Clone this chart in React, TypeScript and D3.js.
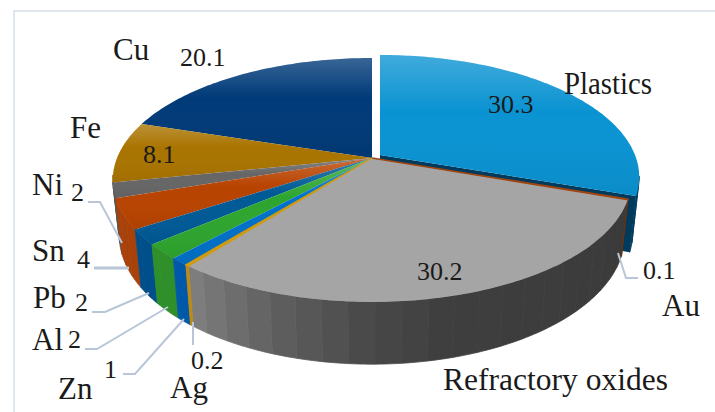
import * as d3 from 'd3';

const categories = ['Plastics', 'Au', 'Refractory oxides', 'Ag', 'Zn', 'Al', 'Pb', 'Sn', 'Ni', 'Fe', 'Cu'];
const values = [30.3, 0.1, 30.2, 0.2, 1, 2, 2, 4, 2, 8.1, 20.1];
const valueLabels = ['30.3', '0.1', '30.2', '0.2', '1', '2', '2', '4', '2', '8.1', '20.1'];

const topColors = ['#0a93d2', '#a04510', '#a5a5a5', '#d09a10', '#0070c8', '#2ea52e', '#005a96', '#b84300', '#666666', '#a97400', '#003a78'];
const wallColors = ['#003a5c', '#6e3208', '#555555', '#c08a10', '#0058a8', '#2f8f2a', '#004f8a', '#a8420a', '#555555', '#7d5600', '#002a58'];

// label anchors, [x, baseline]
const nameAt: [number, number][] = [[564, 94], [662, 316], [443, 390], [170, 398], [58, 399], [32, 350], [33, 308], [32, 261], [32, 195], [70, 138], [113, 60]];
const valueAt: [number, number][] = [[488, 113], [643, 279], [417, 280], [191, 369], [104, 378], [68, 348], [75, 311], [77, 268], [71, 201], [143, 163], [180, 66]];
// the two long names are squeezed or stretched to the width in the picture
const nameWidth: Record<string, number> = { Plastics: 88, 'Refractory oxides': 225 };
// leader polylines per category, only the small slices have one
const leaders: Record<string, [number, number][]> = {
  Au: [[618, 253], [626, 278], [638, 278]],
  Ag: [[193, 322], [193, 345]],
  Zn: [[184, 319], [135, 374], [123, 374]],
  Al: [[168, 307], [97, 349], [85, 349]],
  Pb: [[149, 293], [105, 312], [92, 312]],
  Sn: [[129, 268], [94, 268]],
  Ni: [[122, 243], [100, 202], [88, 202]],
};

const W = 715;
const H = 412;
const cx = 372;
const cy = 158;
const tilt = 0.18;
const depth = 54;
const shrink = 0.975;

const xScale = d3.scaleLinear().domain([-1, 1]).range([cx - 255, cx + 255]);
const yScale = d3.scaleLinear().domain([-1, 1]).range([cy + 118, cy - 118]);

const greyShade = d3.scaleLinear<string>()
  .domain([100, 165, 180, 196, 213, 218])
  .range(['#3a3a3a', '#3e3e3e', '#484848', '#5c5c5c', '#777777', '#808080']);

type Pt = [number, number];

// circle point to screen, lower=true gives the rim of the bottom face
function project(a: number, r: number, lower: boolean, off: Pt = [0, 0]): Pt {
  const u = Math.sin(a) * r;
  const w = Math.cos(a) * r;
  const s = 1 / (1 + tilt * w);
  const k = lower ? shrink : 1;
  const x = xScale(u * s * k);
  const y = yScale(w * s * k) + (lower ? depth * s : 0);
  return [x + off[0], y + off[1]];
}

function angleSteps(a0: number, a1: number, step: number): number[] {
  const out = d3.range(a0, a1, step);
  out.push(a1);
  return out;
}

const line = d3.line();
const pieGen = d3.pie<number>().sort(null).value(d => d);
const arcs = pieGen(values);
const explode: Pt = [8, -3];
const DEG = Math.PI / 180;
const wallFrom = 100 * DEG;
const wallTo = 262 * DEG;

function topPath(i: number, off: Pt) {
  const a = arcs[i];
  const rim = angleSteps(a.startAngle, a.endAngle, DEG).map(t => project(t, 1, false, off));
  return line([project(0, 0, false, off), ...rim]) + 'Z';
}

function wallFacets(i: number, off: Pt) {
  const a = arcs[i];
  const from = Math.max(a.startAngle, wallFrom);
  const to = Math.min(a.endAngle, wallTo);
  if (from >= to) return [];
  const steps = angleSteps(from, to, 5 * DEG);
  return steps.slice(0, -1).map((t, j) => {
    const mid = angleSteps(t, steps[j + 1], DEG);
    const upper = mid.map(v => project(v, 1, false, off));
    const lower = mid.map(v => project(v, 1, true, off)).reverse();
    const color = i === 2 ? greyShade((t + steps[j + 1]) / 2 / DEG) : wallColors[i];
    return { d: line([...upper, ...lower]) + 'Z', color };
  });
}

export default function App() {
  const plasticEnd = arcs[0].endAngle;
  const cutFace = line([
    project(0, 0, false, explode),
    project(plasticEnd, 1, false, explode),
    project(plasticEnd, 1, true, explode),
    project(0, 0, true, explode),
  ]) + 'Z';
  // grey goes first, the thin Ag and Au slivers last so nothing covers them
  const order = [2, 10, 9, 8, 7, 6, 5, 4, 1, 3];

  return (
    <svg width={W} height={H} style={{ position: 'fixed', left: 0, top: 0, background: '#fff' }}>
      <defs>
        <linearGradient id="sheen" x1="0" y1="0" x2="0" y2="1">
          <stop offset="0" stopColor="#fff" stopOpacity={0.22} />
          <stop offset="0.4" stopColor="#fff" stopOpacity={0} />
          <stop offset="1" stopColor="#000" stopOpacity={0.05} />
        </linearGradient>
      </defs>
      <path d="M14 412V11H715" fill="none" stroke="#dfe6ee" strokeWidth={2} />

      {/* exploded slice goes first, the rest of the pie overlaps it */}
      <g>
        {wallFacets(0, explode).map((f, j) => <path key={j} d={f.d} fill={f.color} stroke={f.color} strokeWidth={0.8} />)}
        <path d={cutFace} fill={wallColors[0]} />
        <path d={topPath(0, explode)} fill={topColors[0]} />
        <path d={topPath(0, explode)} fill="url(#sheen)" />
      </g>

      {order.map(i => (
        <g key={categories[i]}>
          {wallFacets(i, [0, 0]).map((f, j) => <path key={j} d={f.d} fill={f.color} stroke={f.color} strokeWidth={0.8} />)}
        </g>
      ))}
      {order.map(i => (
        <g key={categories[i]}>
          <path d={topPath(i, [0, 0])} fill={topColors[i]} stroke={i === 1 || i === 3 ? topColors[i] : 'none'} strokeWidth={1.4} />
          {i !== 2 && i !== 1 && i !== 3 && <path d={topPath(i, [0, 0])} fill="url(#sheen)" />}
        </g>
      ))}

      {Object.entries(leaders).map(([k, pts]) => (
        <path key={k} d={line(pts) ?? ''} fill="none" stroke="#b8c6d8" strokeWidth={k === 'Sn' ? 3 : 2} />
      ))}

      <g fontFamily="'Liberation Serif', serif" fill="#1a1a1a">
        {categories.map((c, i) => (
          <text key={c} x={nameAt[i][0]} y={nameAt[i][1]} fontSize={31} textLength={nameWidth[c]} lengthAdjust="spacingAndGlyphs">{c}</text>
        ))}
        {valueLabels.map((v, i) => (
          <text key={categories[i]} x={valueAt[i][0]} y={valueAt[i][1]} fontSize={26}>{v}</text>
        ))}
      </g>
    </svg>
  );
}
